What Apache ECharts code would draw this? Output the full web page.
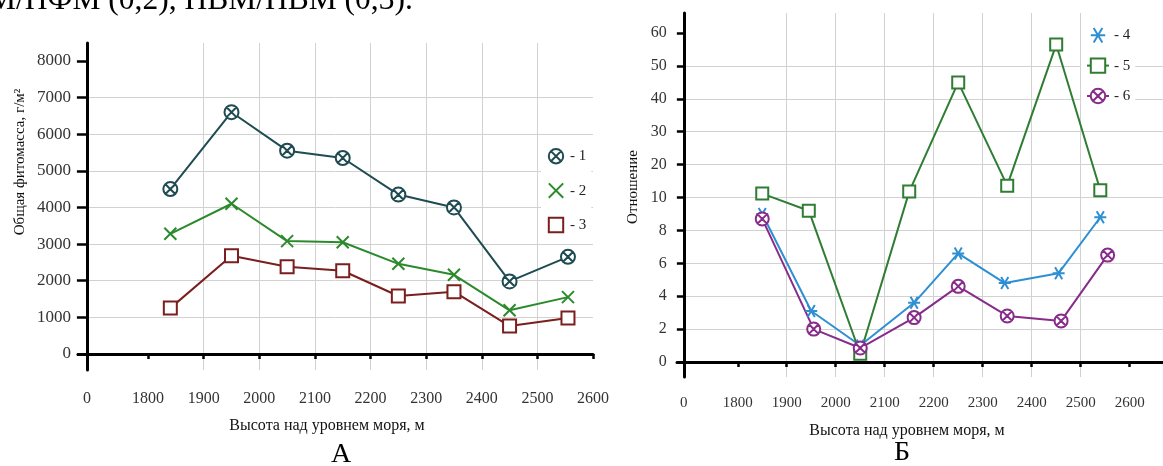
<!DOCTYPE html>
<html>
<head>
<meta charset="utf-8">
<script src="https://cdn.jsdelivr.net/npm/echarts@6/dist/echarts.min.js"></script>
<style>
html,body{margin:0;padding:0;background:#fff;}
#c{width:1163px;height:466px;}
</style>
</head>
<body>
<div id="c"></div>
<script>
// ---------- Chart А : total phytomass ----------
const xA = [1840, 1950, 2050, 2150, 2250, 2350, 2450, 2555];
const s1 = [4500, 6600, 5550, 5350, 4350, 4000, 1980, 2650];
const s2 = [3280, 4100, 3080, 3050, 2460, 2160, 1190, 1550];
const s3 = [1250, 2680, 2380, 2270, 1580, 1700, 760, 980];

// ---------- Chart Б : ratios ----------
const xB4 = [1850, 1950, 2050, 2160, 2250, 2345, 2455, 2540];
const xB5 = [1850, 1945, 2050, 2150, 2250, 2350, 2450, 2540];
const xB6 = [1850, 1955, 2050, 2160, 2250, 2350, 2460, 2555];
const s4 = [9.0, 3.1, 1.0, 3.6, 6.6, 4.8, 5.4, 8.8];
const s5 = [11.2, 9.2, 0.5, 11.8, 45, 13.6, 56.5, 12.2];
const s6 = [8.7, 2.0, 0.85, 2.7, 4.6, 2.8, 2.5, 6.5];

// ---------- tick labels ----------
const xOrigin = 1690;              // broken-axis origin, labelled "0"
const xTicks = [1800, 1900, 2000, 2100, 2200, 2300, 2400, 2500, 2600];
const yTicksA = [0, 1000, 2000, 3000, 4000, 5000, 6000, 7000, 8000];
const yTicksB = [0, 2, 4, 6, 8, 10, 20, 30, 40, 50, 60]; // equally spaced ticks (non-linear scale)

const FONT = 'Liberation Serif';
const C1 = '#1f4b52', C2 = '#2b8a2b', C3 = '#7a1e1e';
const C4 = '#2e8fd3', C5 = '#2f7d32', C6 = '#872c8a';

const CIRCLE_X = 'path://M20,10A10,10,0,1,1,0,10A10,10,0,1,1,20,10ZM3,3L17,17M17,3L3,17';
const CROSS = 'path://M0,0L20,20M20,0L0,20';
const STAR = 'path://M0,10L20,10M4,0L16,20M16,0L4,20';

// piecewise-linear position on Б's y axis (tick index units)
function posB(v) {
  for (let i = 0; i < yTicksB.length - 1; i++) {
    const a = yTicksB[i], b = yTicksB[i + 1];
    if (v <= b) return i + (v - a) / (b - a);
  }
  return yTicksB.length - 1;
}

function mk(name, xs, ys, sym, size, color, fillWhite, axis, tf) {
  return {
    name: name, type: 'line', xAxisIndex: axis, yAxisIndex: axis,
    data: xs.map((x, i) => [x, tf ? tf(ys[i]) : ys[i]]),
    symbol: sym, symbolSize: size,
    lineStyle: { color: color, width: 2 },
    itemStyle: { color: fillWhite ? '#fff' : color, borderColor: color, borderWidth: 2 },
    clip: false, z: 5
  };
}

const axisLineStyle = { show: true, onZero: true, lineStyle: { color: '#000', width: 3 } };
const gridLine = { show: true, lineStyle: { color: '#d2d2d2', width: 1 }, showMinLine: false, showMaxLine: false };

const chart = echarts.init(document.getElementById('c'), null, { renderer: 'canvas' });
chart.setOption({
  animation: false,
  backgroundColor: '#fff',
  grid: [
    { left: 78, top: 43, width: 515, height: 327 },
    { left: 677, top: 13, width: 486, height: 364 }
  ],
  xAxis: [
    {
      type: 'value', gridIndex: 0, min: 1674, max: 2600,
      axisLine: axisLineStyle,
      axisTick: { show: true, length: 5, customValues: xTicks, lineStyle: { color: '#000', width: 2.5 } },
      axisLabel: { customValues: [xOrigin].concat(xTicks), margin: 21, fontFamily: FONT, fontSize: 16, color: '#333',
        formatter: v => (v === xOrigin ? '0' : String(v)) },
      splitLine: gridLine,
      name: 'Высота над уровнем моря, м', nameLocation: 'middle', nameGap: 48,
      nameTextStyle: { fontFamily: FONT, fontSize: 16, color: '#111', padding: [0, 17, 0, 0] }
    },
    {
      type: 'value', gridIndex: 1, min: 1676, max: 2668,
      axisLine: axisLineStyle,
      axisTick: { show: true, length: 5, customValues: xTicks, lineStyle: { color: '#000', width: 2.5 } },
      axisLabel: { customValues: [xOrigin].concat(xTicks), margin: 19, fontFamily: FONT, fontSize: 15, color: '#333',
        formatter: v => (v === xOrigin ? '0' : String(v)) },
      splitLine: gridLine,
      name: 'Высота над уровнем моря, м', nameLocation: 'middle', nameGap: 46,
      nameTextStyle: { fontFamily: FONT, fontSize: 16, color: '#111', padding: [0, 26, 0, 0] }
    }
  ],
  yAxis: [
    {
      type: 'value', gridIndex: 0, min: -440, max: 8490, offset: -8.9,
      axisLine: axisLineStyle,
      axisTick: { show: true, length: 10, customValues: yTicksA, lineStyle: { color: '#000', width: 2.5 } },
      axisLabel: { customValues: yTicksA, margin: 16, fontFamily: FONT, fontSize: 17, color: '#333',
        formatter: v => String(v) },
      splitLine: gridLine
    },
    {
      type: 'value', gridIndex: 1, min: -0.456, max: 10.61, offset: -6.86,
      axisLine: axisLineStyle,
      axisTick: { show: true, length: 7, customValues: yTicksB.map((t, i) => i), lineStyle: { color: '#000', width: 2.5 } },
      axisLabel: { customValues: yTicksB.map((t, i) => i), margin: 17, fontFamily: FONT, fontSize: 16, color: '#333',
        formatter: v => String(yTicksB[Math.round(v)]) },
      splitLine: gridLine
    }
  ],
  legend: [
    {
      orient: 'vertical', left: 541, top: 143, padding: 5, itemWidth: 18, itemHeight: 18, itemGap: 18,
      backgroundColor: '#fff', selectedMode: false, formatter: '- {name}',
      textStyle: { fontFamily: FONT, fontSize: 15, color: '#222' },
      data: [
        { name: '1', lineStyle: { opacity: 0 } },
        { name: '2', lineStyle: { opacity: 0 } },
        { name: '3', lineStyle: { opacity: 0 } }
      ]
    },
    {
      orient: 'vertical', left: 1081, top: 22, padding: 5, itemWidth: 22, itemHeight: 18, itemGap: 14,
      backgroundColor: '#fff', selectedMode: false, formatter: '- {name}',
      textStyle: { fontFamily: FONT, fontSize: 15, color: '#222' },
      data: [
        { name: '4', lineStyle: { opacity: 0 } },
        { name: '5' },
        { name: '6' }
      ]
    }
  ],
  series: [
    mk('1', xA, s1, CIRCLE_X, 14, C1, true, 0),
    mk('2', xA, s2, CROSS, 12, C2, false, 0),
    mk('3', xA, s3, 'rect', 13, C3, true, 0),
    mk('4', xB4, s4, STAR, 12, C4, false, 1, posB),
    mk('5', xB5, s5, 'rect', 12, C5, true, 1, posB),
    mk('6', xB6, s6, CIRCLE_X, 13, C6, true, 1, posB)
  ],
  graphic: [
    { type: 'text', x: -12, y: 1, silent: true,
      style: { text: 'М/ПФМ (0,2), ПВМ/ПВМ (0,3).', fontFamily: FONT, fontSize: 31.5, fill: '#000', verticalAlign: 'middle' } },
    { type: 'text', x: 20, y: 162, rotation: Math.PI / 2, silent: true,
      style: { text: 'Общая фитомасса, г/м²', fontFamily: FONT, fontSize: 15, fill: '#111', align: 'center', verticalAlign: 'middle' } },
    { type: 'text', x: 633, y: 187, rotation: Math.PI / 2, silent: true,
      style: { text: 'Отношение', fontFamily: FONT, fontSize: 15, fill: '#111', align: 'center', verticalAlign: 'middle' } },
    { type: 'text', x: 341, y: 455, silent: true,
      style: { text: 'А', fontFamily: FONT, fontSize: 28, fill: '#000', align: 'center', verticalAlign: 'middle' } },
    { type: 'text', x: 902, y: 453, silent: true,
      style: { text: 'Б', fontFamily: FONT, fontSize: 28, fill: '#000', align: 'center', verticalAlign: 'middle' } }
  ]
});
</script>
</body>
</html>
